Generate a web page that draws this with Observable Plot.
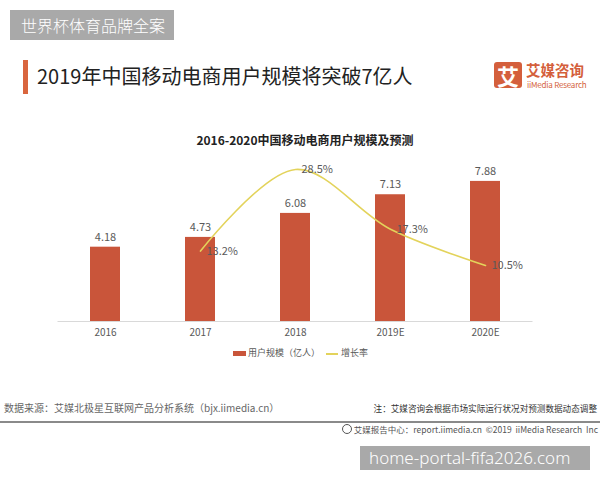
<!DOCTYPE html>
<html><head><meta charset="utf-8">
<script src="https://cdn.jsdelivr.net/npm/d3@7"></script>
<script src="https://cdn.jsdelivr.net/npm/@observablehq/plot@0.6"></script>
<style>
body{margin:0;width:600px;height:480px;position:relative;background:#fff;font-family:"Noto Sans CJK SC","Noto Sans",sans-serif;overflow:hidden}
.abs{position:absolute;white-space:nowrap;line-height:1}
</style></head><body>
<div class="abs" style="left:10px;top:10px;width:164px;height:30px;background:#a9a9a9"></div>
<div class="abs" style="left:21px;top:17px;font-size:16px;color:#fff;font-weight:300">世界杯体育品牌全案</div>
<div class="abs" style="left:23px;top:60px;width:5px;height:34px;background:#d9653e"></div>
<div class="abs" style="left:37px;top:66px;font-size:20px;color:#222">2019年中国移动电商用户规模将突破7亿人</div>
<div class="abs" style="left:494px;top:62px;width:28px;height:26px;background:#d45f3c;border-radius:3px;color:#fff;font-size:22px;font-weight:bold;text-align:center;line-height:26px">艾</div>
<div class="abs" style="left:526px;top:63px;height:14px;font-size:14.5px;line-height:14px;color:#d45f3c;font-weight:bold">艾媒咨询</div>
<div class="abs" style="left:527px;top:81px;height:8px;font-size:8px;line-height:8px;color:#d45f3c;letter-spacing:-0.2px">iiMedia Research</div>
<div class="abs" style="left:0;width:610px;top:134px;text-align:center;font-size:12px;font-weight:bold;color:#222">2016-2020中国移动电商用户规模及预测</div>
<div id="chart" class="abs" style="left:0;top:150px"></div>
<div class="abs" style="left:233px;top:351px;width:13px;height:5px;background:#c9553a"></div>
<div class="abs" style="left:248px;top:348px;font-size:9px;color:#595959">用户规模（亿人）</div>
<div class="abs" style="left:326px;top:353px;width:12px;height:1.5px;background:#e3d35b"></div>
<div class="abs" style="left:341px;top:348px;font-size:9px;color:#595959">增长率</div>
<div class="abs" style="left:4px;top:403px;font-size:10px;color:#666">数据来源：艾媒北极星互联网产品分析系统（bjx.iimedia.cn）</div>
<div class="abs" style="right:3px;top:404px;font-size:8.6px;color:#333">注：艾媒咨询会根据市场实际运行状况对预测数据动态调整</div>
<div class="abs" style="left:0;top:421px;width:600px;height:2px;background:#8a8a8a"></div>
<div class="abs" style="right:2px;top:424px;font-size:8.5px;color:#555"><span style="display:inline-block;width:8px;height:8px;border:1px solid #555;border-radius:50%;vertical-align:-1px;margin-right:2px"></span>艾媒报告中心：report.iimedia.cn&nbsp; ©2019&nbsp; iiMedia Research&nbsp; Inc</div>
<div class="abs" style="left:360px;top:446px;width:230px;height:24px;background:#a9a9a9"></div>
<div class="abs" style="left:369px;top:449px;font-size:17px;color:#fff;font-family:'Noto Sans',sans-serif;font-weight:300">home-portal-fifa2026.com</div>
<script>
const years = ["2016", "2017", "2018", "2019E", "2020E"];
const users = [4.18, 4.73, 6.08, 7.13, 7.88];
const growthYears = ["2017", "2018", "2019E", "2020E"];
const growth = [13.2, 28.5, 17.3, 10.5];
// dual axis: 0–9 亿人 on the left corresponds to 0–30% on the right
const pctToUnits = 9 / 30;

const bars = years.map((y, i) => ({year: y, value: users[i]}));
const rate = growthYears.map((y, i) => ({year: y, pct: growth[i], v: growth[i] * pctToUnits}));

const chart = Plot.plot({
  width: 600, height: 200,
  marginTop: 11, marginBottom: 29, marginLeft: 57.5, marginRight: 67.5,
  style: {fontFamily: '"Noto Sans CJK SC","Noto Sans",sans-serif', fontSize: "10px", color: "#595959", background: "transparent"},
  x: {domain: years, paddingInner: 0.684, paddingOuter: 0.342, align: 0.5, label: null, tickSize: 0, tickPadding: 7},
  y: {domain: [0, 9], axis: null},
  marks: [
    Plot.barY(bars, {x: "year", y: "value", fill: "#c9553a"}),
    Plot.ruleY([0], {stroke: "#d9d9d9"}),
    Plot.text(bars, {x: "year", y: "value", text: d => d.value.toFixed(2), dy: -10, fill: "#595959", fontSize: 11}),
    Plot.line(rate, {x: "year", y: "v", stroke: "#e3d35b", strokeWidth: 1.6, curve: "catmull-rom"}),
    Plot.text(rate, {x: "year", y: "v", text: d => d.pct.toFixed(1) + "%", textAnchor: "start", dx: 6, fill: "#595959", fontSize: 11})
  ]
});
document.getElementById("chart").appendChild(chart);
</script>
</body></html>
